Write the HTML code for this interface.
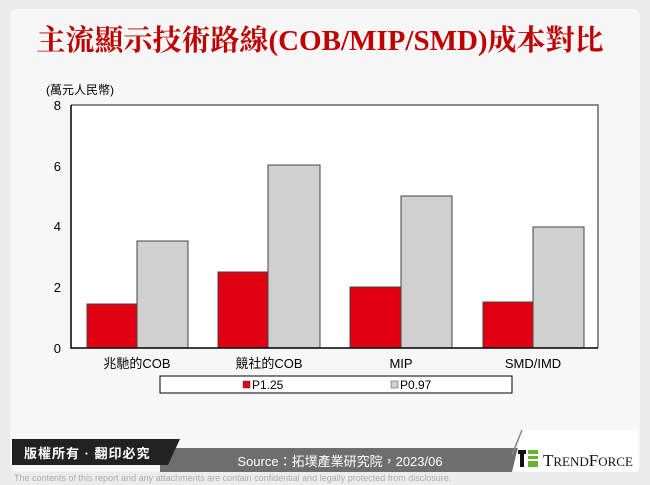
<!DOCTYPE html>
<html><head><meta charset="utf-8"><style>
body{margin:0;width:650px;height:485px;background:#ececec;overflow:hidden;font-family:"Liberation Sans","Noto Sans CJK TC",sans-serif}
</style></head><body>
<svg width="650" height="485" viewBox="0 0 650 485" xmlns="http://www.w3.org/2000/svg" style="position:absolute;left:0;top:0">
<rect x="10" y="9" width="630" height="463" rx="8" fill="#f7f7f7"/>
<rect x="71" y="105" width="527" height="243" fill="#fff"/>
<text x="320" y="50" text-anchor="middle" font-family="Liberation Serif,'Noto Serif CJK SC',serif" font-weight="bold" font-size="29" fill="#c00000">主流顯示技術路線(COB/MIP/SMD)成本對比</text>
<text x="46" y="94" font-size="12" fill="#000">(萬元人民幣)</text>
<g font-size="13" text-anchor="end" fill="#000">
<text x="61" y="110">8</text><text x="61" y="171">6</text><text x="61" y="231">4</text><text x="61" y="292">2</text><text x="61" y="353">0</text></g>
<g stroke="#444" stroke-width="1">
<rect x="87" y="304" width="50" height="44" fill="#e00012"/><rect x="137" y="241" width="51" height="107" fill="#d0d0d0"/>
<rect x="218" y="272" width="50" height="76" fill="#e00012"/><rect x="268" y="165" width="52" height="183" fill="#d0d0d0"/>
<rect x="350" y="287" width="51" height="61" fill="#e00012"/><rect x="401" y="196" width="51" height="152" fill="#d0d0d0"/>
<rect x="483" y="302" width="50" height="46" fill="#e00012"/><rect x="533" y="227" width="51" height="121" fill="#d0d0d0"/>
</g>
<path d="M71 105H598V348" fill="none" stroke="#666" stroke-width="1.5"/>
<path d="M71 105V348H598" fill="none" stroke="#000" stroke-width="1.5"/>
<g font-size="13" text-anchor="middle" fill="#000">
<text x="137" y="368">兆馳的COB</text><text x="269" y="368">競社的COB</text><text x="401" y="368">MIP</text><text x="533" y="368">SMD/IMD</text></g>
<rect x="160" y="376" width="352" height="17" fill="#fff" stroke="#000"/>
<rect x="243" y="381" width="7" height="7" fill="#e00012" stroke="#444" stroke-width=".5"/>
<text x="252" y="389" font-size="12">P1.25</text>
<rect x="391" y="381" width="7" height="7" fill="#d0d0d0" stroke="#444" stroke-width=".5"/>
<text x="400" y="389" font-size="12">P0.97</text>
<polygon points="160,448 522,448 512,472 160,472" fill="#6e6e6e"/>
<polygon points="12,439 180,439 168,465 12,465" fill="#222"/>
<text x="24" y="458" font-size="13" fill="#fff" font-weight="bold" letter-spacing="1">版權所有 · 翻印必究</text>
<text x="340" y="466" text-anchor="middle" font-size="13" fill="#fff">Source：拓墣產業研究院，2023/06</text>
<polygon points="522,430 638,430 638,472 512,472" fill="#fff"/>
<path d="M522,430 L512,455" stroke="#888" stroke-width="1.5"/>
<rect x="518" y="450" width="8" height="4" fill="#111"/><rect x="520" y="454" width="4" height="13" fill="#111"/>
<rect x="528" y="450" width="10" height="4" fill="#6ab42d"/><rect x="528" y="456" width="10" height="3" fill="#6ab42d"/><rect x="528" y="461" width="10" height="6" fill="#6ab42d"/>
<text x="543" y="466" font-family="Liberation Serif,serif" font-size="17" fill="#111">T<tspan font-size="13">REND</tspan>F<tspan font-size="13">ORCE</tspan></text>
<text x="14" y="481" font-size="9" fill="#aaa">The contents of this report and any attachments are contain confidential and legally protected from disclosure.</text>
</svg>
</body></html>
